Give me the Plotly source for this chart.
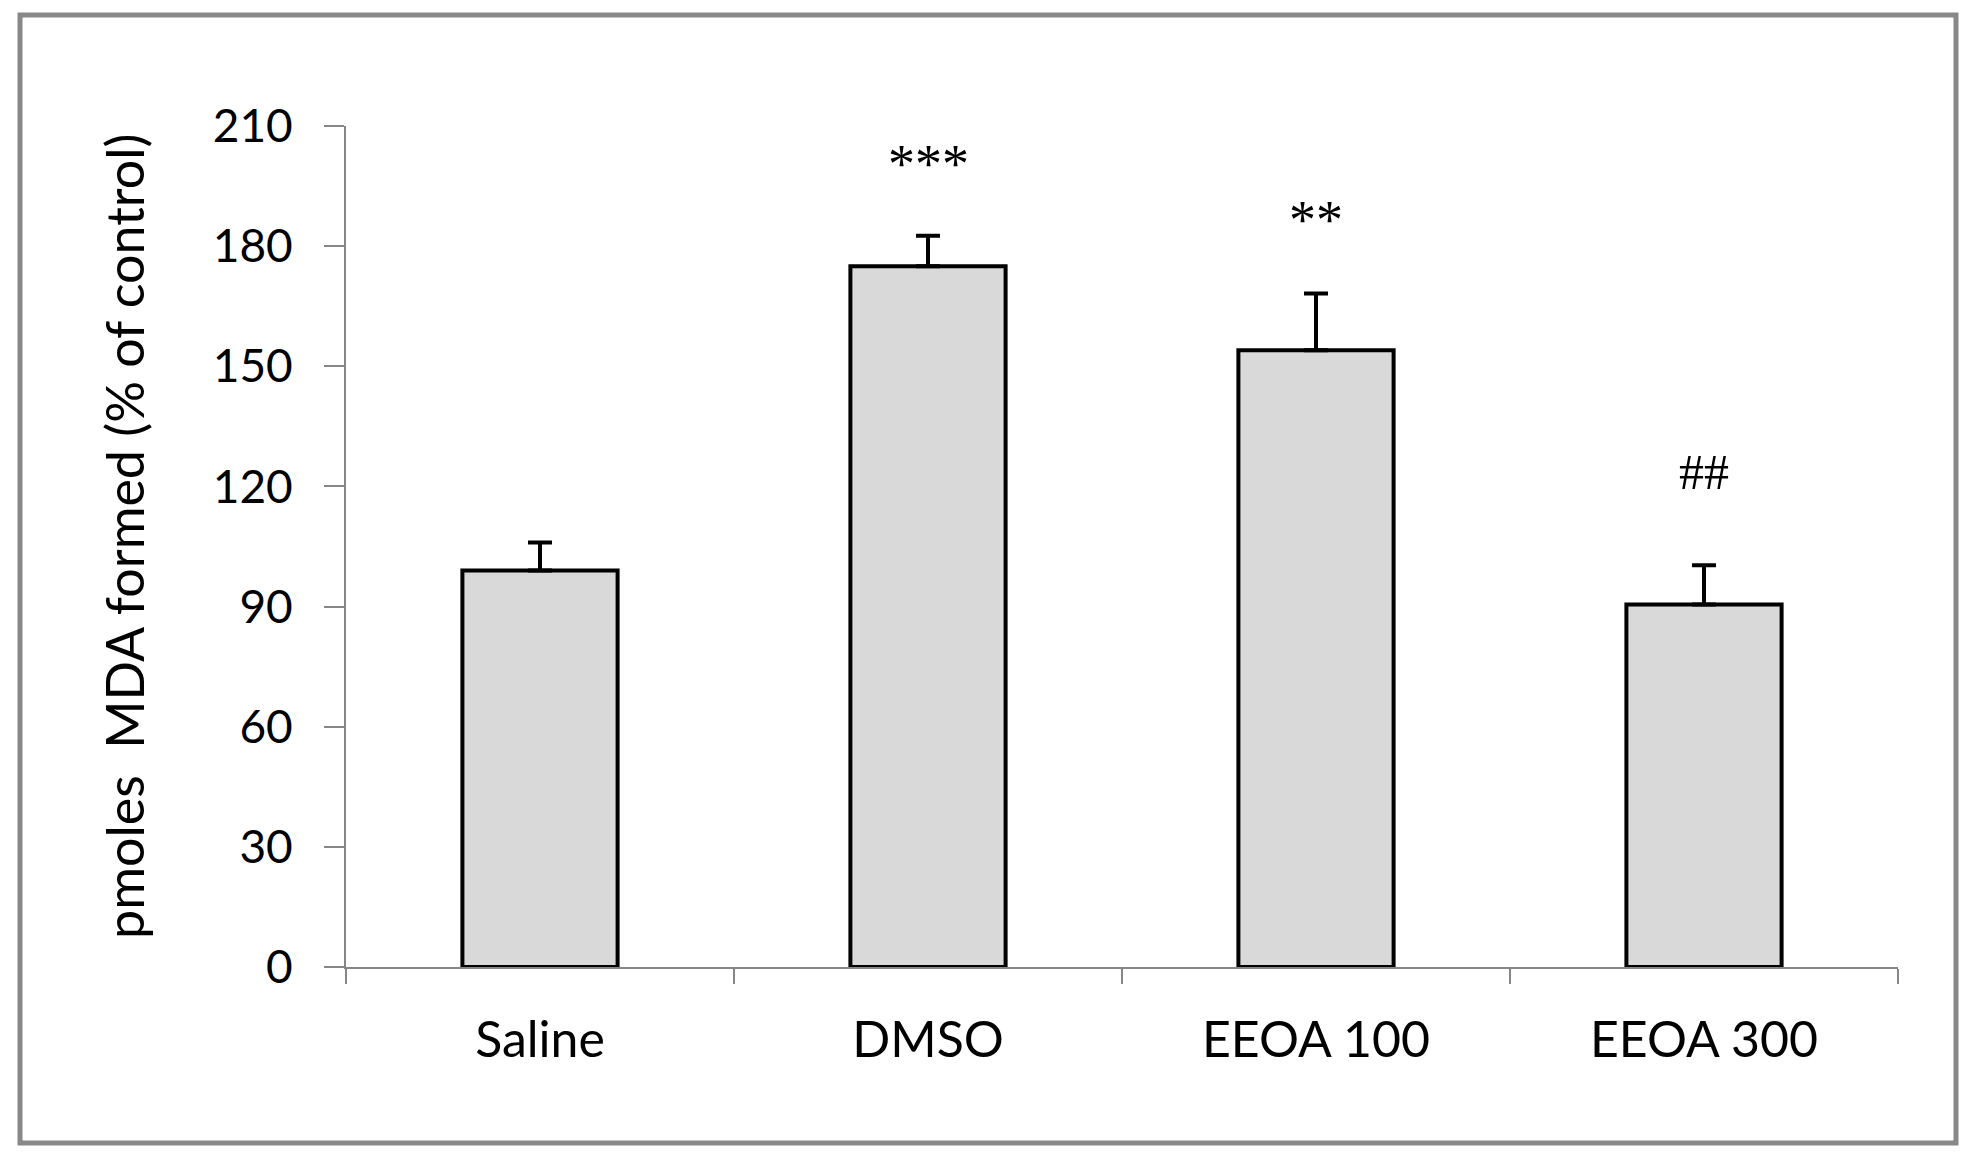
import plotly.graph_objects as go

categories = ["Saline", "DMSO", "EEOA 100", "EEOA 300"]
means = [99, 175, 154, 90.5]
errors = [7, 7.6, 14.2, 9.8]
marks = ["", "***", "**", "##"]
mark_y = [None, 200.5, 186.5, 123.5]
y_ticks = [0, 30, 60, 90, 120, 150, 180, 210]

W, H = 1980, 1162
OFF = 8  # page body margin
# desired page coordinates of plot area
PX0, PX1, PY0, PY1 = 346, 1898, 126, 967
L, R = PX0 - OFF, W + OFF - PX1
T, B = PY0 - OFF, H + OFF - PY1
pw, ph = PX1 - PX0, PY1 - PY0


def px(x):
    return (x - PX0) / pw


def py(y):
    return (PY1 - y) / ph


fig = go.Figure()
fig.add_trace(go.Bar(
    x=categories, y=means,
    marker=dict(color="#d9d9d9", line=dict(color="black", width=4)),
    error_y=dict(type="data", array=errors, arrayminus=[0]*4, symmetric=False,
                 color="black", thickness=4, width=12),
    width=0.4,
))

for c, m, yv in zip(categories, marks, mark_y):
    if m:
        fig.add_annotation(x=c, y=yv, text=m, showarrow=False, xref="x", yref="y",
                           font=dict(family="Liberation Serif",
                                     size=54 if m.startswith("*") else 50, color="black"),
                           yanchor="middle")

fig.add_annotation(text="pmoles  MDA formed (% of control)", textangle=-90,
                   xref="paper", yref="paper", x=px(124), y=py(537),
                   showarrow=False, xanchor="center", yanchor="middle",
                   font=dict(family="Lato", size=52, color="black"))

# outer border
fig.add_shape(type="rect", xref="paper", yref="paper",
              x0=px(20), x1=px(1956), y0=py(1143), y1=py(15),
              line=dict(color="#888888", width=5), fillcolor="rgba(0,0,0,0)", layer="below")

fig.update_layout(
    width=W, height=H,
    margin=dict(l=L, r=R, t=T, b=B),
    plot_bgcolor="white", paper_bgcolor="white",
    showlegend=False,
    font=dict(family="Lato", color="black"),
)
fig.update_yaxes(range=[0, 210], tickvals=y_ticks, showgrid=False, zeroline=False,
                 showline=True, linecolor="#868686", linewidth=2,
                 ticks="outside", ticklen=20, tickwidth=2, tickcolor="#868686",
                 tickfont=dict(family="Lato", size=46, color="black"),
                 ticklabelstandoff=22)
fig.update_xaxes(showgrid=False, showline=True, linecolor="#868686", linewidth=2,
                 ticks="outside", ticklen=15, tickwidth=2, tickcolor="#868686",
                 tickson="boundaries",
                 tickfont=dict(family="Lato", size=50, color="black"),
                 ticklabelstandoff=28)

fig.write_html("out.html")
